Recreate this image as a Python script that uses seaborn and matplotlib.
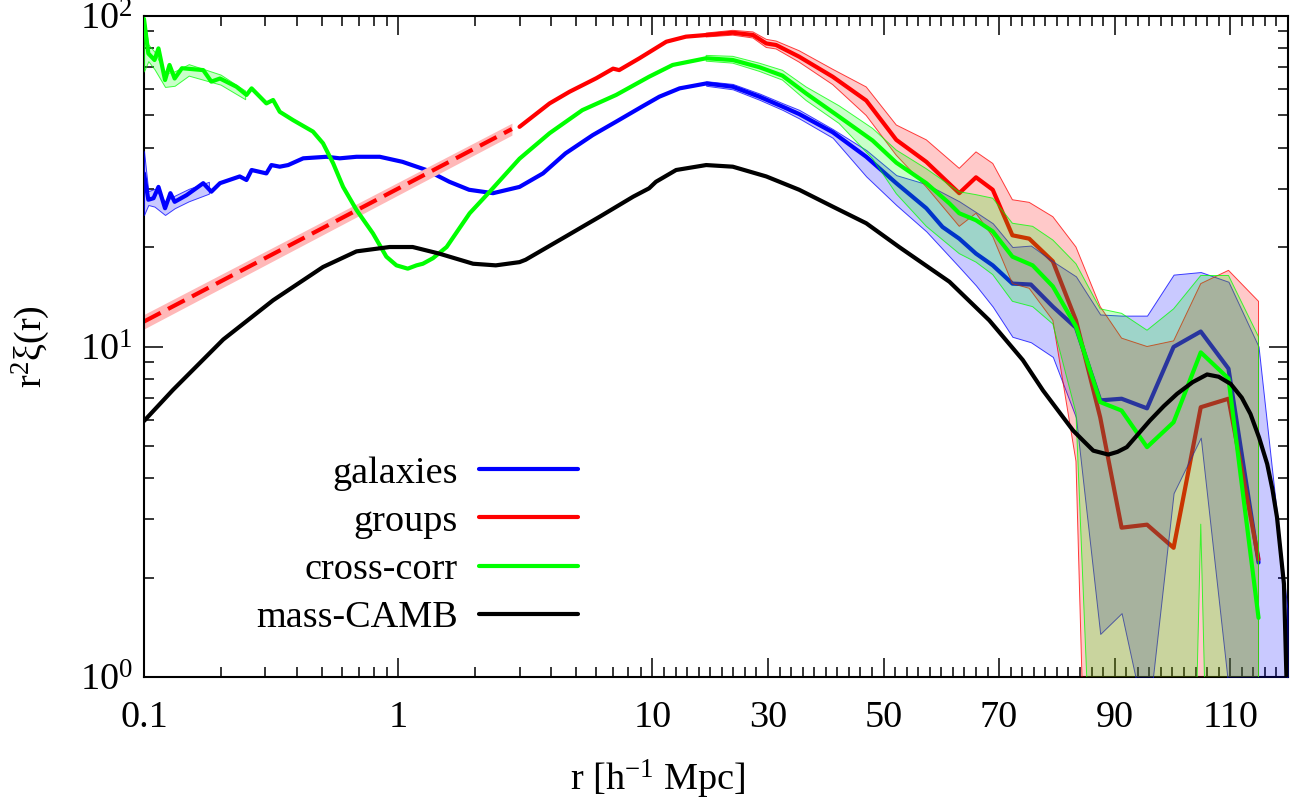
import numpy as np
import matplotlib
matplotlib.use("Agg")
import matplotlib.pyplot as plt
import matplotlib.ticker as mticker
from matplotlib.lines import Line2D
import seaborn as sns

# ---- galaxies (blue) ----
gal_r = [0.1, 0.104, 0.109, 0.114, 0.121, 0.127, 0.132, 0.147, 0.171, 0.184, 0.199,
         0.238, 0.253, 0.265, 0.303, 0.317, 0.342, 0.369, 0.423, 0.522, 0.589, 0.685,
         0.846, 1.04, 1.29, 1.59, 1.9, 2.36, 3.0, 3.71, 4.55, 5.82, 7.2, 9.1, 11.2,
         14.7, 19.3, 23.9, 28.5, 32.5, 35.4, 41.2, 47.0, 52.2, 57.4, 60.2, 63.1, 66.0,
         68.9, 72.3, 75.5, 79.3, 83.3, 87.5, 91.2, 95.6, 100.2, 104.9, 109.7, 114.9]
gal_v = [33.4, 27.8, 28.1, 30.4, 26.2, 29.1, 27.4, 28.7, 31.2, 29.4, 31.2,
         32.7, 31.9, 34.2, 33.4, 35.4, 35.0, 35.4, 37.1, 37.5, 37.1, 37.5,
         37.5, 36.2, 34.2, 31.5, 29.8, 29.1, 30.4, 33.4, 38.4, 43.6, 47.9, 53.2, 57.0,
         60.4, 62.5, 61.1, 57.0, 53.2, 50.5, 44.5, 37.5, 31.2, 26.2, 23.0, 21.2, 19.1,
         17.6, 15.5, 15.4, 13.2, 11.4, 6.87, 6.95, 6.5, 9.97, 11.1, 8.57, 2.22]

# error band, small scales
gal_band_small_r = [0.1, 0.104, 0.11, 0.121, 0.132, 0.15, 0.18]
gal_band_small_lo = [25.0, 26.8, 26.5, 25.0, 26.2, 27.5, 29.0]
gal_band_small_hi = [39.0, 29.5, 30.0, 27.5, 28.6, 30.0, 31.5]
# error band, large scales
gal_band_r = [19.3, 23.9, 28.5, 32.5, 35.4, 41.2, 47.0, 52.2, 57.4, 63.1, 66.0, 68.9,
              72.3, 75.5, 79.3, 83.3, 87.5, 91.2, 95.6, 100.2, 104.9, 109.7, 114.9, 119.9]
gal_band_lo = [61.5, 60.0, 55.8, 52.0, 49.0, 42.8, 32.7, 26.8, 22.3, 17.4, 15.3, 13.2,
               10.7, 10.3, 9.3, 6.1, 1.35, 1.56, 0.69, 3.6, 5.3, 0.93, 0.3, 0.3]
gal_band_hi = [63.5, 62.3, 58.3, 54.5, 52.0, 45.5, 39.3, 33.0, 31.0, 27.5, 25.5, 23.6,
               20.0, 20.2, 18.1, 16.3, 12.5, 12.4, 12.4, 16.5, 16.8, 15.7, 10.0, 1.6]

# ---- groups (red) ----
grp_fit_r = [0.1, 2.8]
grp_fit_v = [11.9, 45.5]
grp_fit_lo = [11.3, 43.6]
grp_fit_hi = [12.5, 47.4]

grp_r = [3.0, 3.94, 4.72, 6.01, 7.0, 7.4, 8.89, 12.4, 15.8, 19.3, 23.9, 27.4, 29.7,
         31.4, 35.4, 41.2, 47.0, 52.2, 57.4, 63.1, 66.0, 68.9, 72.3, 75.2, 79.3, 83.3,
         87.5, 91.2, 95.6, 100.2, 104.9, 109.7, 114.9]
grp_v = [46.2, 54.4, 59.0, 64.8, 69.3, 68.6, 74.5, 83.6, 86.6, 87.6, 89.0, 87.6, 82.6,
         81.7, 75.3, 65.5, 55.5, 42.2, 36.2, 29.1, 32.5, 29.8, 21.7, 21.2, 18.1, 12.0,
         6.1, 2.83, 2.89, 2.46, 6.55, 6.95, 2.27]

grp_band_r = [19.3, 23.9, 27.4, 29.7, 31.4, 35.4, 41.2, 47.0, 52.2, 57.4, 63.1, 66.0,
              68.9, 72.3, 75.2, 79.3, 83.3, 87.5, 91.2, 95.6, 100.2, 104.9, 109.7, 114.9]
grp_band_lo = [86.4, 87.5, 85.8, 80.3, 79.5, 72.5, 62.0, 50.0, 37.9, 30.4, 23.1, 25.3,
               21.5, 15.5, 15.0, 12.0, 4.5, 0.01, 0.01, 0.01, 0.01, 0.01, 0.01, 0.01]
grp_band_hi = [88.8, 90.5, 89.5, 85.0, 84.0, 78.5, 69.0, 61.0, 46.8, 42.2, 34.6, 38.8,
               35.8, 27.8, 27.3, 24.7, 20.0, 13.2, 10.6, 10.0, 10.4, 15.5, 17.0, 13.7]

# ---- cross-corr (green) ----
crs_r = [0.1, 0.104, 0.110, 0.114, 0.121, 0.126, 0.132, 0.141, 0.171, 0.184, 0.199,
         0.231, 0.253, 0.265, 0.303, 0.322, 0.342, 0.386, 0.462, 0.506, 0.555, 0.607,
         0.685, 0.795, 0.898, 0.984, 1.09, 1.18, 1.25, 1.37, 1.55, 1.91, 2.29, 3.0,
         3.94, 5.3, 7.2, 9.7, 13.5, 19.3, 23.9, 28.5, 32.5, 36.6, 42.3, 48.1, 52.2,
         57.4, 61.4, 63.1, 66.0, 68.9, 72.3, 75.8, 79.3, 83.3, 87.5, 91.2, 95.6, 100.2,
         104.9, 109.7, 114.9]
crs_v = [98.0, 77.0, 73.6, 79.8, 64.0, 71.1, 64.7, 69.5, 68.6, 63.3, 64.7,
         61.1, 57.7, 60.4, 54.4, 55.7, 51.3, 48.4, 44.7, 41.2, 35.8, 30.4,
         25.9, 22.0, 18.7, 17.6, 17.2, 17.6, 17.8, 18.5, 20.0, 25.3, 29.4, 37.0,
         44.2, 51.9, 57.7, 65.5, 71.1, 74.5, 73.6, 70.0, 66.0, 58.3, 49.6, 42.0, 36.0,
         31.2, 27.1, 25.3, 24.1, 22.3, 18.7, 17.6, 15.2, 11.5, 6.79, 6.4, 4.96, 5.9,
         9.6, 8.0, 1.51]

crs_band_small_r = [0.1, 0.104, 0.11, 0.121, 0.132, 0.15, 0.2, 0.25]
crs_band_small_lo = [68.0, 73.0, 69.0, 61.0, 61.5, 66.0, 62.0, 56.0]
crs_band_small_hi = [99.0, 82.0, 78.0, 67.0, 68.0, 71.5, 66.5, 59.5]
crs_band_r = [19.3, 23.9, 28.5, 32.5, 36.6, 42.3, 48.1, 52.2, 57.4, 63.1, 66.0, 68.9,
              72.3, 75.8, 79.3, 83.3, 87.5, 91.2, 95.6, 100.2, 104.9, 109.7, 114.9]
crs_band_lo = [73.0, 72.0, 68.0, 64.0, 55.5, 47.3, 37.0, 29.0, 23.1, 19.1, 18.0, 16.5,
               13.7, 13.2, 11.7, 6.3, 0.1, 0.001, 0.001, 0.001, 2.9, 0.001, 0.001]
crs_band_hi = [76.0, 75.5, 72.0, 68.5, 61.0, 53.5, 45.7, 39.3, 34.5, 29.4, 28.8, 28.1,
               23.6, 23.1, 21.0, 17.8, 13.0, 12.6, 11.2, 13.0, 16.4, 16.4, 10.7]

# ---- mass-CAMB (black) ----
camb_r = [0.1, 0.13, 0.205, 0.322, 0.506, 0.685, 0.925, 1.14, 1.45, 1.97, 2.42, 3.0,
          3.17, 4.55, 6.2, 8.4, 9.7, 10.6, 14.1, 19.3, 23.9, 29.7, 35.4, 41.2, 47.0,
          52.7, 61.4, 68.3, 74.1, 77.6, 82.8, 84.5, 86.3, 88.9, 90.5, 92.1, 96.1, 98.5,
          100.8, 103.5, 106.0, 108.0, 110.1, 112.0, 113.5, 115.0, 116.4, 117.3, 118.1,
          119.3, 119.8]
camb_v = [5.95, 7.39, 10.5, 13.8, 17.4, 19.4, 20.0, 20.0, 19.1, 17.8, 17.6, 18.0,
          18.3, 21.5, 24.7, 28.4, 30.1, 31.5, 34.2, 35.4, 35.0, 32.7, 29.8, 26.5, 23.6,
          20.0, 15.7, 12.0, 9.1, 7.36, 5.57, 5.2, 4.84, 4.71, 4.8, 4.96, 5.97, 6.6,
          7.19, 7.8, 8.23, 8.1, 7.7, 7.0, 6.25, 5.3, 4.41, 3.7, 3.04, 1.91, 0.9]

x_major = [0.1, 1, 10, 30, 50, 70, 90, 110]
x_major_labels = ["0.1", "1", "10", "30", "50", "70", "90", "110"]

BLUE, RED, GREEN = "#0000ff", "#ff0000", "#00ff00"


def fwd(r):
    # log scale up to 10, linear beyond
    r = np.asarray(r, dtype=float)
    lg = np.log10(np.clip(r, 1e-12, None))
    return np.where(r <= 10, lg, 1 + (r - 10) / 44.0)


def inv(u):
    u = np.asarray(u, dtype=float)
    return np.where(u <= 1, 10 ** np.clip(u, -12, 1), 10 + (u - 1) * 44.0)


sns.set_theme(style="ticks")
plt.rcParams["font.family"] = ["Liberation Serif", "DejaVu Serif"]
plt.rcParams["mathtext.fontset"] = "custom"
plt.rcParams["mathtext.rm"] = "Liberation Serif"
plt.rcParams["mathtext.it"] = "Liberation Serif:italic"
for key in ("text.color", "axes.labelcolor", "xtick.color", "ytick.color", "axes.edgecolor"):
    plt.rcParams[key] = "black"

FS = 27.5
LW = 3.0

fig = plt.figure(figsize=(12.98, 8.09), dpi=100)
ax = fig.add_axes([144 / 1298, 1 - 677 / 809, 1144 / 1298, 661 / 809])
ax.set_xscale("function", functions=(fwd, inv))
ax.set_yscale("log")

sns.lineplot(x=gal_r, y=gal_v, ax=ax, color=BLUE, lw=LW, estimator=None, sort=False, zorder=2)

ax.fill_between(grp_fit_r, grp_fit_lo, grp_fit_hi, color="#ffb8b8", lw=0, zorder=2)
sns.lineplot(x=grp_fit_r, y=grp_fit_v, ax=ax, color=RED, lw=LW, estimator=None,
             sort=False, zorder=2.2)
ax.lines[-1].set_dashes((4.5, 2.0))
sns.lineplot(x=grp_r, y=grp_v, ax=ax, color=RED, lw=LW, estimator=None, sort=False, zorder=2.1)

bands = [(gal_band_small_r, gal_band_small_lo, gal_band_small_hi, BLUE),
         (gal_band_r, gal_band_lo, gal_band_hi, BLUE),
         (grp_band_r, grp_band_lo, grp_band_hi, RED),
         (crs_band_small_r, crs_band_small_lo, crs_band_small_hi, GREEN),
         (crs_band_r, crs_band_lo, crs_band_hi, GREEN)]
for br, lo, hi, c in bands:
    ax.fill_between(br, lo, hi, facecolor=matplotlib.colors.to_rgba(c, 0.21),
                    edgecolor=matplotlib.colors.to_rgba(c, 0.75), lw=0.7, zorder=3)

sns.lineplot(x=crs_r, y=crs_v, ax=ax, color=GREEN, lw=LW, estimator=None, sort=False, zorder=4)
sns.lineplot(x=camb_r, y=camb_v, ax=ax, color="black", lw=LW, estimator=None, sort=False, zorder=5)

ax.set_xlim(0.1, 120)
ax.set_ylim(1, 100)

x_minor = [m * d for d in (0.1, 1) for m in range(2, 10)] + \
          [v for v in range(12, 120, 2) if v not in x_major]
ax.xaxis.set_major_locator(mticker.FixedLocator(x_major))
ax.xaxis.set_major_formatter(mticker.FixedFormatter(x_major_labels))
ax.xaxis.set_minor_locator(mticker.FixedLocator(x_minor))
ax.xaxis.set_minor_formatter(mticker.NullFormatter())
ax.yaxis.set_major_locator(mticker.LogLocator(base=10))
ax.yaxis.set_major_formatter(mticker.LogFormatterMathtext())
ax.yaxis.set_minor_locator(mticker.LogLocator(base=10, subs=range(2, 10)))
ax.yaxis.set_minor_formatter(mticker.NullFormatter())

ax.tick_params(which="both", direction="in", top=True, right=True, colors="black",
               labelsize=FS)
ax.tick_params(which="major", length=14, width=1.1)
ax.tick_params(which="minor", length=7, width=1.1)
ax.tick_params(axis="x", which="major", pad=17)
ax.tick_params(axis="y", which="major", pad=8)
for s in ax.spines.values():
    s.set_linewidth(1.5)
    s.set_color("black")

ax.set_xlabel("r [h$^{\\mathregular{-1}}$ Mpc]", fontsize=FS)
ax.set_ylabel("r$^{\\mathregular{2}}$ξ(r)", fontsize=FS)
ax.xaxis.set_label_coords(0.449, -0.122)
ax.yaxis.set_label_coords(-0.08, 0.5)

handles = [Line2D([], [], color=c, lw=LW) for c in (BLUE, RED, GREEN, "black")]
labels = ["galaxies", "groups", "cross-corr", "mass-CAMB"]
ax.legend(handles, labels, loc="upper right", bbox_to_anchor=(578 / 1298, 1 - 456 / 809),
          bbox_transform=fig.transFigure, frameon=False, markerfirst=False, fontsize=FS,
          handlelength=2.6, handletextpad=0.55, labelspacing=0.35, borderpad=0,
          borderaxespad=0)

fig.savefig("out.png", dpi=100)
